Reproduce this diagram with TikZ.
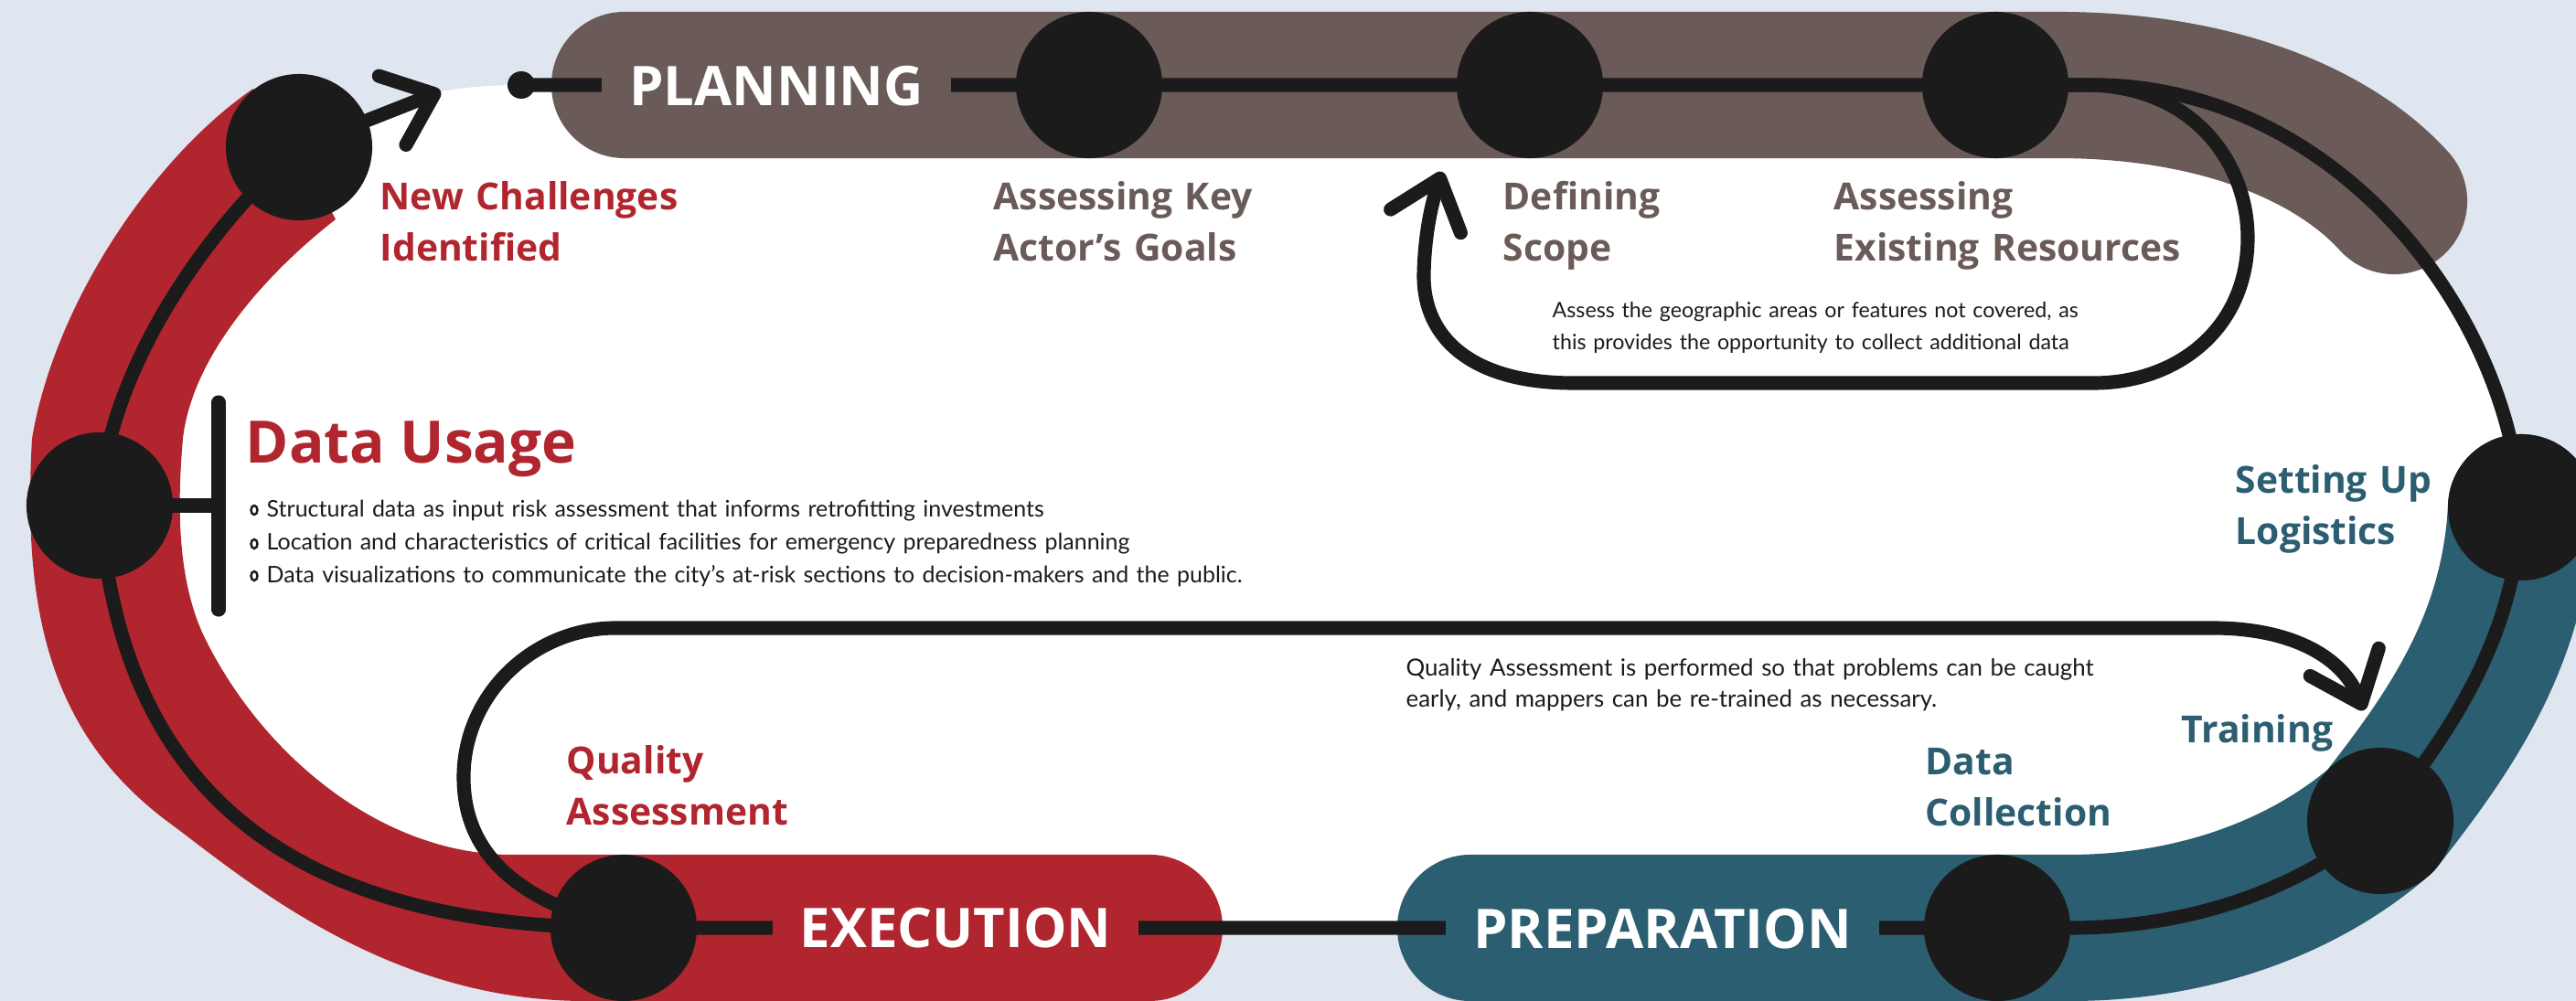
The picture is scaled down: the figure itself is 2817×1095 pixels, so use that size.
\documentclass[tikz,border=0pt]{standalone}
\usepackage{fontspec}
\setmainfont{Lato}
\newfontfamily\hfont{Open Sans}
\usetikzlibrary{arrows.meta}
\definecolor{bgc}{RGB}{223,230,240}
\definecolor{brn}{RGB}{106,91,88}
\definecolor{redc}{RGB}{177,37,46}
\definecolor{bluc}{RGB}{43,94,112}
\definecolor{blk}{RGB}{27,27,27}
\begin{document}
\begin{tikzpicture}[x=0.01cm,y=-0.01cm,
  bandstroke/.style={line width=1.6cm,line cap=round},
  wireline/.style={draw=blk,line width=4.3pt},
  barbend/.style={-{Straight Barb[length=14pt,width=23pt,round]}},
  stopdot/.style={circle,fill=blk,minimum size=1.6cm,inner sep=0pt},
  lbltxt/.style={anchor=base west,inner sep=0pt,align=left,text width=6cm,font=\hfont\bfseries\fontsize{11.6}{15.9}\selectfont},
  phaselbl/.style={inner xsep=8.5pt,inner ysep=2pt,text=white,font=\hfont\bfseries\fontsize{17}{20}\selectfont},
  notetxt/.style={anchor=base west,inner sep=0pt,align=left,text width=9cm,text=blk,font=\fontsize{6.6}{9.7}\selectfont}
]
\useasboundingbox (0,0) rectangle (2817,1095);
\fill[bgc] (0,0) rectangle (2817,1095);

% key points
\coordinate (dot) at (570,93);
\coordinate (cNC) at (327,161);
\coordinate (cAK) at (1191,93);
\coordinate (cDS) at (1673,93);
\coordinate (cER) at (2182,93);
\coordinate (cSL) at (2757,555);
\coordinate (cTR) at (2603,898);
\coordinate (cDC) at (2184,1015);
\coordinate (cEX) at (682,1015);
\coordinate (cDU) at (109,553);
\coordinate (tipNC) at (482,100);
\coordinate (tipQA) at (2585,777);
\coordinate (tipDS) at (1577,188);
\coordinate (brk) at (239,553);

% white interior
\fill[white] (dot) -- (2300,93) .. controls (2550,100) and (2740,330) .. (cSL)
  .. controls (2750,700) and (2680,800) .. (cTR)
  .. controls (2520,970) and (2400,1015) .. (2263,1015) -- (cEX)
  .. controls (300,1015) and (130,850) .. (cDU)
  .. controls (115,420) and (210,265) .. (cNC) -- (tipNC)
  .. controls (510,95) and (540,93) .. (dot) -- cycle;

% bands
\draw[bandstroke,brn] (683,93) -- (2250,93) .. controls (2420,93) and (2550,145) .. (2618,220);
\draw[bandstroke,bluc] (cSL) .. controls (2750,700) and (2680,800) .. (cTR)
  .. controls (2520,970) and (2400,1015) .. (2263,1015) -- (1608,1015);
\fill[redc] (1257,935) -- (560,935) .. controls (420,935) and (290,830) .. (225,700)
  .. controls (195,640) and (193,560) .. (200,480)
  .. controls (210,390) and (290,300) .. (367,240) -- (cNC) -- (277,97)
  .. controls (170,170) and (60,330) .. (35,480)
  .. controls (25,660) and (50,800) .. (185,900)
  .. controls (265,959) and (420,1095) .. (640,1095) -- (1257,1095)
  arc[start angle=-90,end angle=90,radius=0.8cm] -- cycle;

% connectors
\draw[wireline,barbend] (dot) -- (cAK) -- (cDS) -- (cER) -- (2300,93)
  .. controls (2550,100) and (2740,330) .. (cSL)
  .. controls (2750,700) and (2680,800) .. (cTR)
  .. controls (2520,970) and (2400,1015) .. (2263,1015) -- (cDC) -- (cEX)
  .. controls (300,1015) and (130,850) .. (cDU)
  .. controls (115,420) and (210,265) .. (cNC) -- (tipNC);
\draw[wireline,barbend] (cEX) .. controls (560,985) and (507,930) .. (507,850)
  .. controls (507,760) and (583,687) .. (673,687) -- (2420,687)
  .. controls (2500,687) and (2560,715) .. (tipQA);
\draw[wireline,barbend] (cER) -- (2280,93) .. controls (2400,93) and (2458,180) .. (2458,260)
  .. controls (2458,360) and (2380,419) .. (2290,419) -- (1720,419)
  .. controls (1610,419) and (1556,370) .. (1557,300)
  .. controls (1558,250) and (1568,215) .. (tipDS);
\draw[wireline] (cDU) -- (brk);
\draw[wireline,line cap=round] (239,440) -- (239,667);

% stops
\node[circle,fill=blk,minimum size=0.3cm,inner sep=0pt] (nDot) at (dot) {};
\node[stopdot] (nNC) at (cNC) {};
\node[stopdot] (nAK) at (cAK) {};
\node[stopdot] (nDS) at (cDS) {};
\node[stopdot] (nER) at (cER) {};
\node[stopdot] (nSL) at (cSL) {};
\node[stopdot] (nTR) at (cTR) {};
\node[stopdot] (nDC) at (cDC) {};
\node[stopdot] (nEX) at (cEX) {};
\node[stopdot] (nDU) at (cDU) {};

% phase labels
\node[phaselbl,fill=brn] (pPL) at (849,94) {PLANNING};
\node[phaselbl,fill=redc] (pEX) at (1045,1015) {EXECUTION};
\node[phaselbl,fill=bluc] (pPR) at (1818,1016) {PREPARATION};

% step labels
\node[lbltxt,text=redc] (lNC) at (415,230) {New Challenges\\Identified};
\node[lbltxt,text=brn] (lAK) at (1086,230) {Assessing Key\\Actor’s Goals};
\node[lbltxt,text=brn] (lDS) at (1643,230) {Defining\\Scope};
\node[lbltxt,text=brn] (lER) at (2005,230) {Assessing\\Existing Resources};
\node[lbltxt,text=bluc] (lSL) at (2444,540) {Setting Up\\Logistics};
\node[lbltxt,text=bluc] (lTR) at (2385,813) {Training};
\node[lbltxt,text=bluc] (lDC) at (2105,848) {Data\\Collection};
\node[lbltxt,text=redc] (lQA) at (619,847) {Quality\\Assessment};

% data usage
\node[anchor=base west,inner sep=0pt,text=redc,font=\hfont\bfseries\fontsize{18.2}{22}\selectfont] (lDU) at (268,507) {Data Usage};
\foreach \yy in {558,595,630}
  \draw[blk,line width=0.7pt] (278,\yy) ellipse [x radius=0.035cm,y radius=0.05cm];
\node[notetxt,font=\fontsize{7.1}{10.2}\selectfont,text width=12cm] (bDU) at (291,566)
  {Structural data as input risk assessment that informs retrofitting investments\\
   Location and characteristics of critical facilities for emergency preparedness planning\\
   Data visualizations to communicate the city’s at-risk sections to decision-makers and the public.};

% notes
\node[notetxt] (nDSn) at (1697,348) {Assess the geographic areas or features not covered, as\\this provides the opportunity to collect additional data};
\node[notetxt,font=\fontsize{7.35}{9.4}\selectfont] (nQAn) at (1537,740) {Quality Assessment is performed so that problems can be caught\\early, and mappers can be re-trained as necessary.};
\end{tikzpicture}
\end{document}
